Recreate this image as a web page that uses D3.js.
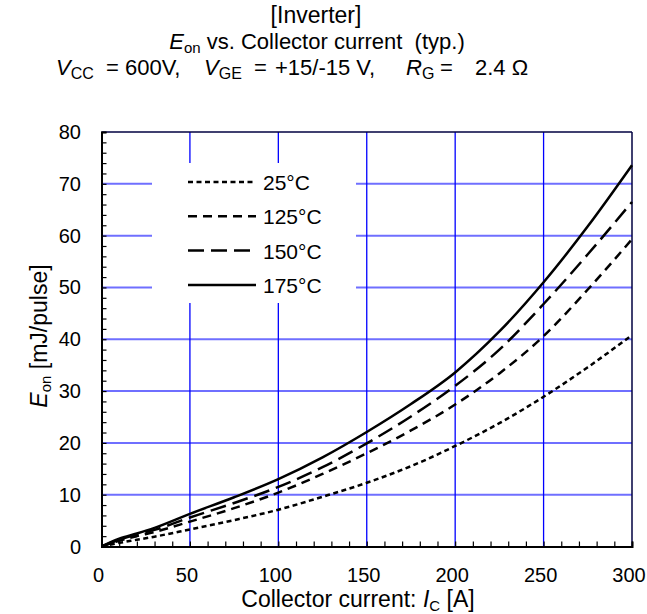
<!DOCTYPE html>
<html>
<head>
<meta charset="utf-8">
<script src="https://cdn.jsdelivr.net/npm/d3@7"></script>
<style>
  body { margin: 0; background: #fff; }
  svg { display: block; font-family: "Liberation Sans", Arial, sans-serif; }
  text { white-space: pre; }
</style>
</head>
<body>
<svg id="chart" width="647" height="614"></svg>
<script>
// Collector current [A]
const current = [0, 10, 20, 30, 50, 75, 100, 125, 150, 175, 200, 225, 250, 275, 300];
// Turn-on switching energy [mJ/pulse] per junction temperature
const e25  = [0, 0.7, 1.3, 1.9, 3.3, 5.1, 7.1, 9.6, 12.3, 15.5, 19.4, 23.8, 28.9, 34.6, 40.8];
const e125 = [0, 1.1, 2.0, 2.8, 4.8, 7.4, 10.4, 14.0, 18.0, 22.4, 27.4, 33.4, 40.6, 49.6, 59.3];
const e150 = [0, 1.3, 2.3, 3.2, 5.6, 8.4, 11.5, 15.3, 19.9, 25.1, 31.0, 38.0, 46.8, 56.4, 66.5];
const e175 = [0, 1.5, 2.5, 3.6, 6.3, 9.5, 13.0, 17.2, 22.1, 27.5, 33.6, 41.5, 51.0, 61.8, 73.6];
const seriesNames = ["25°C", "125°C", "150°C", "175°C"];
const xTicks = [0, 50, 100, 150, 200, 250, 300];
const yTicks = [0, 10, 20, 30, 40, 50, 60, 70, 80];

const seriesValues = [e25, e125, e150, e175];
const dashes = ["5,3.5", "9,6", "16,7", null];

const svg = d3.select("#chart");
const L = 101.5, R = 632, T = 132, B = 546.5;
const x = d3.scaleLinear().domain([0, 300]).range([L, R]);
const y = d3.scaleLinear().domain([0, 80]).range([B, T]);

// Grid
svg.append("g").selectAll("line").data(yTicks.slice(1, -1)).join("line")
  .attr("x1", L).attr("x2", R).attr("y1", d => y(d)).attr("y2", d => y(d))
  .attr("stroke", "#6f6fff").attr("stroke-width", 2);
svg.append("g").selectAll("line").data(xTicks.slice(1, -1)).join("line")
  .attr("x1", d => x(d)).attr("x2", d => x(d)).attr("y1", T).attr("y2", B)
  .attr("stroke", "#0000ff").attr("stroke-width", 1.3);

// Legend background masks the grid
const legX = 152, legY = 163, legW = 204, legH = 140;
svg.append("rect").attr("x", legX).attr("y", legY).attr("width", legW).attr("height", legH)
  .attr("fill", "#fff");

// Frame
svg.append("line").attr("x1", L).attr("x2", R).attr("y1", T).attr("y2", T)
  .attr("stroke", "#000040").attr("stroke-width", 1.5);
svg.append("line").attr("x1", R).attr("x2", R).attr("y1", T).attr("y2", B)
  .attr("stroke", "#000040").attr("stroke-width", 1.5);

// Curves
const line = d3.line().x((d, i) => x(current[i])).y(d => y(d)).curve(d3.curveMonotoneX);
svg.append("g").selectAll("path").data(seriesValues).join("path")
  .attr("d", d => line(d))
  .attr("fill", "none").attr("stroke", "#000").attr("stroke-width", 2.5)
  .attr("stroke-dasharray", (d, i) => dashes[i]);

// Axes with inward minor ticks
const xAxis = d3.axisBottom(x).tickValues(d3.range(0, 301, 10)).tickSize(-5).tickFormat("");
const gx = svg.append("g").attr("transform", `translate(0,${B})`).call(xAxis);
const yAxis = d3.axisLeft(y).tickValues(d3.range(0, 81, 2)).tickSize(-5).tickFormat("");
const gy = svg.append("g").attr("transform", `translate(${L},0)`).call(yAxis);
[gx, gy].forEach(g => {
  g.select(".domain").attr("stroke", "#000").attr("stroke-width", 2);
  g.selectAll(".tick line").attr("stroke", "#000").attr("stroke-width", 1.2);
});

// Tick labels
svg.append("g").selectAll("text").data(xTicks).join("text")
  .attr("x", d => x(d) - 3).attr("y", 582).attr("text-anchor", "middle")
  .attr("font-size", 20).text(d => d);
svg.append("g").selectAll("text").data(yTicks).join("text")
  .attr("x", 81).attr("y", d => y(d) + 7).attr("text-anchor", "end")
  .attr("font-size", 20).text(d => d);

// Legend
const leg = svg.append("g").selectAll("g").data(seriesNames).join("g")
  .attr("transform", (d, i) => `translate(0,${182 + i * 34.3})`);
leg.append("line").attr("x1", 188).attr("x2", 256).attr("y1", 0).attr("y2", 0)
  .attr("stroke", "#000").attr("stroke-width", 2.5)
  .attr("stroke-dasharray", (d, i) => dashes[i]);
leg.append("text").attr("x", 263).attr("y", 8).attr("font-size", 21).text(d => d);

// Titles
svg.append("text").attr("x", 316).attr("y", 23).attr("text-anchor", "middle")
  .attr("font-size", 23).text("[Inverter]");
const t2 = svg.append("text").attr("x", 317).attr("y", 49).attr("text-anchor", "middle")
  .attr("font-size", 22);
t2.append("tspan").attr("font-style", "italic").text("E");
t2.append("tspan").attr("font-size", 15).attr("dy", 4).text("on");
t2.append("tspan").attr("dy", -4).text(" vs. Collector current  (typ.)");

// Conditions line, each term placed at its own start
const cond = [
  { sym: "V", sub: "CC", x: 56, eqx: 106, eq: "=", valx: 125, val: "600V," },
  { sym: "V", sub: "GE", x: 204, eqx: 254, eq: "=", valx: 275, val: "+15/-15 V," },
  { sym: "R", sub: "G", x: 406, eqx: 440, eq: "=", valx: 475, val: "2.4 Ω" }
];
const t3 = svg.append("g").attr("font-size", 22);
cond.forEach(c => {
  const t = t3.append("text").attr("x", c.x).attr("y", 75);
  t.append("tspan").attr("font-style", "italic").text(c.sym);
  t.append("tspan").attr("font-size", 16).attr("dy", 4).text(c.sub);
  t3.append("text").attr("x", c.eqx).attr("y", 75).text(c.eq);
  t3.append("text").attr("x", c.valx).attr("y", 75).text(c.val);
});

// Axis titles
const xl = svg.append("text").attr("x", 358).attr("y", 607).attr("text-anchor", "middle")
  .attr("font-size", 23);
xl.append("tspan").text("Collector current: ");
xl.append("tspan").attr("font-style", "italic").text("I");
xl.append("tspan").attr("font-size", 15).attr("dy", 4).text("C");
xl.append("tspan").attr("dy", -4).text(" [A]");

const yl = svg.append("text").attr("transform", "translate(47,336) rotate(-90)")
  .attr("text-anchor", "middle").attr("font-size", 23);
yl.append("tspan").attr("font-style", "italic").text("E");
yl.append("tspan").attr("font-size", 15).attr("dy", 4).text("on");
yl.append("tspan").attr("dy", -4).text(" [mJ/pulse]");
</script>
</body>
</html>
